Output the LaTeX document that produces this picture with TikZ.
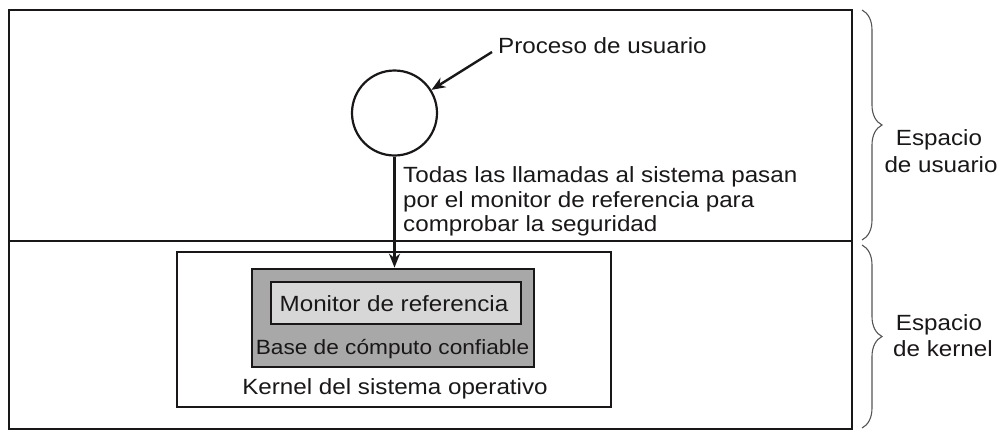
\documentclass[tikz,border=0pt]{standalone}
\usepackage{fontspec}
\setmainfont{Liberation Sans}[FakeStretch=1.1]
\usetikzlibrary{arrows.meta,decorations.pathreplacing}
\definecolor{ink}{HTML}{1A1718}
\definecolor{tcbgray}{HTML}{A8A8A8}
\definecolor{mongray}{HTML}{D7D7D7}
\definecolor{bracegray}{HTML}{555555}
\begin{document}
\begin{tikzpicture}[x=1pt,y=-1pt,
  every node/.style={font=\fontsize{22}{24.7}\selectfont, text=ink, inner sep=0pt},
  frame/.style={draw=ink, line width=2.2pt},
  lbl/.style={anchor=base west},
  ctr/.style={anchor=base},
  arr/.style={draw=ink, line width=2.4pt, -{Stealth[length=14pt,width=11pt]}},
  brc/.style={draw=bracegray, line width=1.1pt, decorate, decoration={brace, amplitude=20pt}}]
\useasboundingbox (0,0) rectangle (1007,445);
% outer frame and divider
\node[frame, minimum width=843, minimum height=419] (outer) at (430.5,219.5) {};
\coordinate (divl) at (9,241);
\coordinate (divr) at (852,241);
\draw[frame] (divl) -- (divr);
% kernel box
\node[frame, minimum width=434, minimum height=155] (kernel) at (394,329.5) {};
\node[frame, fill=tcbgray, minimum width=282, minimum height=98.5] (tcb) at (393,318) {};
\node[draw=ink, line width=1.8pt, fill=mongray, minimum width=250, minimum height=42] (mon) at (396,303) {};
\node[ctr] (montxt) at (394,311.7) {Monitor de referencia};
\node[ctr, font=\fontsize{20.6}{23}\selectfont] (tcbtxt) at (392.5,354.3) {Base de cómputo confiable};
\node[ctr] (kertxt) at (395,394) {Kernel del sistema operativo};
% user process
\node[frame, circle, minimum size=85] (proc) at (394.5,113) {};
\node[lbl] (proctxt) at (498,53) {Proceso de usuario};
\coordinate (ptail) at (492,52);
\draw[arr] (ptail) -- (proc);
\draw[arr] (proc.south) -- (proc.south |- tcb.north);
\node[lbl] (t1) at (403,182.3) {Todas las llamadas al sistema pasan};
\node[lbl] (t2) at (403,207) {por el monitor de referencia para};
\node[lbl] (t3) at (403,231.7) {comprobar la seguridad};
% braces
\coordinate (b1a) at (862,10);
\coordinate (b1b) at (862,240);
\coordinate (b2a) at (862,245);
\coordinate (b2b) at (862,428);
\draw[brc] (b1a) -- (b1b);
\draw[brc] (b2a) -- (b2b);
\node[ctr] (us1) at (939,145.7) {Espacio};
\node[ctr] (us2) at (941,172) {de usuario};
\node[ctr] (ke1) at (939,330) {Espacio};
\node[ctr] (ke2) at (943,356.7) {de kernel};
\end{tikzpicture}
\end{document}
